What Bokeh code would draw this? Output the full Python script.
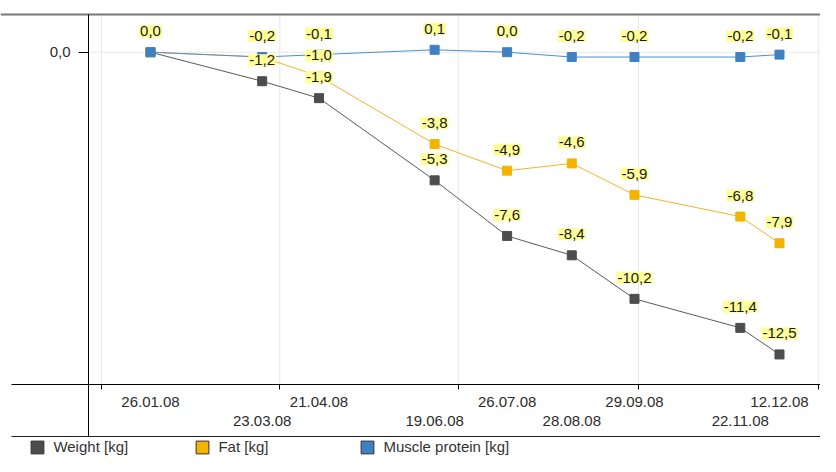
import pandas as pd
from bokeh.plotting import figure
from bokeh.models import (Range1d, FixedTicker, DatetimeAxis, DatetimeTickFormatter,
                          ColumnDataSource, Legend, LegendItem)
from bokeh.core.properties import value
from bokeh.embed import file_html
from bokeh.resources import INLINE

# ---------------- data ----------------
dates = ["26.01.08", "23.03.08", "21.04.08", "19.06.08", "26.07.08",
         "28.08.08", "29.09.08", "22.11.08", "12.12.08"]
weight = [0.0, -1.2, -1.9, -5.3, -7.6, -8.4, -10.2, -11.4, -12.5]
fat = [0.0, -0.2, -1.0, -3.8, -4.9, -4.6, -5.9, -6.8, -7.9]
muscle = [0.0, -0.2, -0.1, 0.1, 0.0, -0.2, -0.2, -0.2, -0.1]
series_names = ["Weight [kg]", "Fat [kg]", "Muscle protein [kg]"]
quarter_ticks = ["2008-01-01", "2008-04-01", "2008-07-01", "2008-10-01", "2009-01-01"]
y_ticks = [0.0]
y_tick_labels = ["0,0"]

# ---------------- styles / layout ----------------
FONT = "Liberation Sans"
marker_colors = ["#4d4d4d", "#f2b400", "#3f80c2"]
line_colors = ["#5a5a5a", "#f0b428", "#4f8fcc"]
label_bg = "#ffff99"
W, H = 820, 456
PX_PER_DAY = 1.9595
PX_PER_UNIT = 24.18
X0_PX, Y0_PX = 150.0, 51.7        # pixel of first date / of value 0

x = pd.to_datetime(dates, format="%d.%m.%y")
anchor = x[0]


def ms(ts):
    return pd.Timestamp(ts).value / 1e6


def xd(px):   # canvas pixel -> x data (ms)
    return ms(anchor + pd.Timedelta(days=(px - X0_PX) / PX_PER_DAY))


def yd(px):   # canvas pixel -> y data
    return (Y0_PX - px) / PX_PER_UNIT


def fmt(v):
    s = f"{v:.1f}".replace(".", ",")
    return "0,0" if s == "-0,0" else s


AXIS_Y, TOP_Y, BOTTOM_Y, LEFT_X, RIGHT_X, LINE_X0 = 384, 14, 436, 88, 828, 11

p = figure(width=W, height=H, x_axis_type="datetime",
           x_range=Range1d(xd(0), xd(W)), y_range=Range1d(yd(H), yd(0)),
           output_backend="svg", toolbar_location=None,
           min_border_left=0, min_border_right=0, min_border_top=0, min_border_bottom=0)
p.outline_line_color = None
p.background_fill_color = "white"
p.border_fill_color = "white"
p.grid.visible = False

# main x axis: quarter ticks, no labels
xa = p.xaxis[0]
xa.fixed_location = yd(AXIS_Y)
xa.bounds = (xd(LINE_X0), xd(RIGHT_X))
q_ms = [ms(t) for t in quarter_ticks]
xa.ticker = FixedTicker(ticks=q_ms, minor_ticks=[])
xa.major_label_overrides = {t: "" for t in q_ms}
xa.major_tick_out = 5
xa.major_tick_in = 0
xa.major_tick_line_color = "black"
xa.axis_line_color = "black"
xa.minor_tick_line_color = None

date_fmt = "%d.%m.%y"
for idx, standoff in ((slice(0, None, 2), 12), (slice(1, None, 2), 31)):
    ax = DatetimeAxis(
        fixed_location=yd(AXIS_Y),
        ticker=FixedTicker(ticks=[ms(t) for t in x[idx]], minor_ticks=[]),
        formatter=DatetimeTickFormatter(microseconds=date_fmt, milliseconds=date_fmt,
                                        seconds=date_fmt, minsec=date_fmt, minutes=date_fmt,
                                        hourmin=date_fmt, hours=date_fmt, days=date_fmt,
                                        months=date_fmt, years=date_fmt),
        axis_line_color=None, major_tick_line_color=None, minor_tick_line_color=None,
        major_tick_out=0, major_tick_in=0, major_label_standoff=standoff,
        major_label_text_font=FONT, major_label_text_font_size="15px",
        major_label_text_color="#2b2b2b")
    p.add_layout(ax, "below")

# frame lines (bottom rule and top rule) as bare axes
for ypx, x0px, color, width in ((BOTTOM_Y, LINE_X0, "#222222", 1), (TOP_Y, 0, "#777777", 2)):
    rule = DatetimeAxis(fixed_location=yd(ypx), bounds=(xd(x0px), xd(RIGHT_X)),
                        ticker=FixedTicker(ticks=[], minor_ticks=[]),
                        axis_line_color=color, axis_line_width=width,
                        major_tick_line_color=None, minor_tick_line_color=None,
                        major_label_text_font_size="15px")
    p.add_layout(rule, "below")

# y axis
ya = p.yaxis[0]
ya.fixed_location = xd(LEFT_X)
ya.bounds = (yd(BOTTOM_Y), yd(TOP_Y))
ya.ticker = FixedTicker(ticks=y_ticks, minor_ticks=[])
ya.major_label_overrides = dict(zip(y_ticks, y_tick_labels))
ya.major_tick_out = 10
ya.major_tick_in = 0
ya.major_label_standoff = 8
ya.axis_line_color = "black"
ya.major_tick_line_color = "black"
ya.minor_tick_line_color = None
ya.major_label_text_font = FONT
ya.major_label_text_font_size = "15px"
ya.major_label_text_color = "#2b2b2b"

# grid lines (quarter ticks and y ticks), limited to the plot area
grid_col = "#e8e8e8"
p.segment(x0=q_ms, x1=q_ms, y0=[yd(AXIS_Y)] * len(q_ms), y1=[yd(TOP_Y)] * len(q_ms),
          line_color=grid_col, line_width=1, level="underlay")
p.segment(x0=[xd(LEFT_X)] * len(y_ticks), x1=[xd(RIGHT_X)] * len(y_ticks), y0=y_ticks, y1=y_ticks,
          line_color=grid_col, line_width=1, level="underlay")

# ---------------- series ----------------
all_vals = [weight, fat, muscle]
sources = [ColumnDataSource(dict(x=x, y=v, label=[fmt(t) for t in v])) for v in all_vals]

# legend keys: zero-size rects on the series data (hidden under the markers)
legend_renderers = [p.rect("x", "y", source=src, width=0, height=0, fill_color=c,
                           line_color="#333333", line_width=1, level="underlay")
                    for src, c in zip(sources, marker_colors)]

for src, lc in zip(sources, line_colors):
    p.line("x", "y", source=src, line_color=lc, line_width=1)
for src, mc in zip(sources, marker_colors):
    p.scatter("x", "y", source=src, marker="square", size=9, fill_color=mc, line_color=mc)
for src in sources:
    p.text("x", "y", text="label", source=src, y_offset=-21,
           text_font=value(FONT), text_font_size="15px", text_color="#1a1a1a",
           text_align="center", text_baseline="middle",
           background_fill_color=label_bg, padding=1)

# ---------------- legend ----------------
legend = Legend(items=[LegendItem(label=n, renderers=[r]) for n, r in zip(series_names, legend_renderers)],
                orientation="horizontal", location=(29.4, 1),
                glyph_width=16, glyph_height=16, label_height=16, label_width=141,
                label_standoff=8, spacing=0, padding=0, margin=0,
                border_line_color=None, background_fill_alpha=0,
                label_text_font=FONT, label_text_font_size="15px", label_text_color="#333333")
p.add_layout(legend)

open("out.html", "w").write(file_html(p, INLINE))
